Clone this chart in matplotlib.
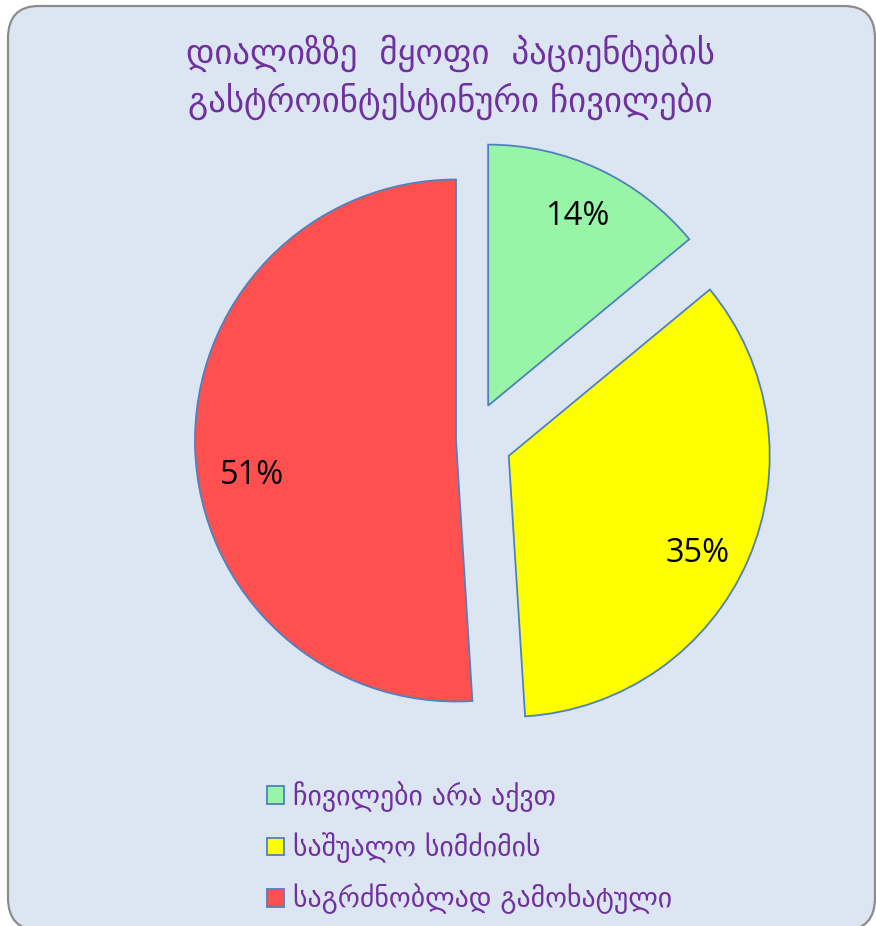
import matplotlib
matplotlib.use("Agg")
import matplotlib.pyplot as plt
from matplotlib.patches import FancyBboxPatch

# complaint groups and their shares (%)
labels = ["ჩივილები არა აქვთ", "საშუალო სიმძიმის", "საგრძნობლად გამოხატული"]
shares = [14, 35, 51]
colors = ["#98F5A8", "#FFFF00", "#FF5050"]
explode = [38, 40, 16]  # offsets in axis units (pixels here)

title_lines = ["დიალიზზე  მყოფი  პაციენტების", "გასტროინტესტინური ჩივილები"]
purple = "#7030A0"
edge = "#4F81BD"

W, H = 876, 926
fig = plt.figure(figsize=(W / 100, H / 100), dpi=100)
fig.patch.set_facecolor("white")

# rounded panel behind everything
panel = FancyBboxPatch((8 / W, 1 - 930 / H), 867 / W, 924 / H,
                       boxstyle="round,pad=0,rounding_size=0.035",
                       transform=fig.transFigure, facecolor="#DCE6F2",
                       edgecolor="#8C8C8C", linewidth=1.6, zorder=-1)
fig.patches.append(panel)

ax = fig.add_axes([0, 0, 1, 1])
ax.set_zorder(1)
ax.patch.set_alpha(0)

wedges, texts, pcts = ax.pie(
    shares, explode=explode, colors=colors, startangle=90, counterclock=False,
    radius=261, center=(472, H - 440), autopct="%.0f%%", pctdistance=0.8,
    wedgeprops=dict(edgecolor=edge, linewidth=1.3),
    textprops=dict(fontsize=23.5, family="Open Sans", color="black"))
ax.set_xlim(0, W)
ax.set_ylim(0, H)
ax.axis("off")

# nudge the percentage labels a little lower inside the big slices
for t, (dx, dy) in zip(pcts, [(0, 0), (-3, -15), (5, -28)]):
    x, y = t.get_position()
    t.set_position((x + dx, y + dy))

for i, line in enumerate(title_lines):
    fig.text(450 / W, 1 - (53 + 48 * i) / H, line, ha="center", va="center",
             fontsize=25, color=purple, family="DejaVu Sans")

leg = ax.legend(wedges, labels, loc="upper left",
                bbox_to_anchor=(242 / W, 1 - 756 / H), bbox_transform=fig.transFigure,
                frameon=False, fontsize=20, labelcolor=purple,
                handlelength=0.6, handleheight=0.6, handletextpad=0.35,
                labelspacing=0.74)
for h in leg.legend_handles:
    h.set_edgecolor(edge)
    h.set_linewidth(1.3)

fig.savefig("out.png", dpi=100)
